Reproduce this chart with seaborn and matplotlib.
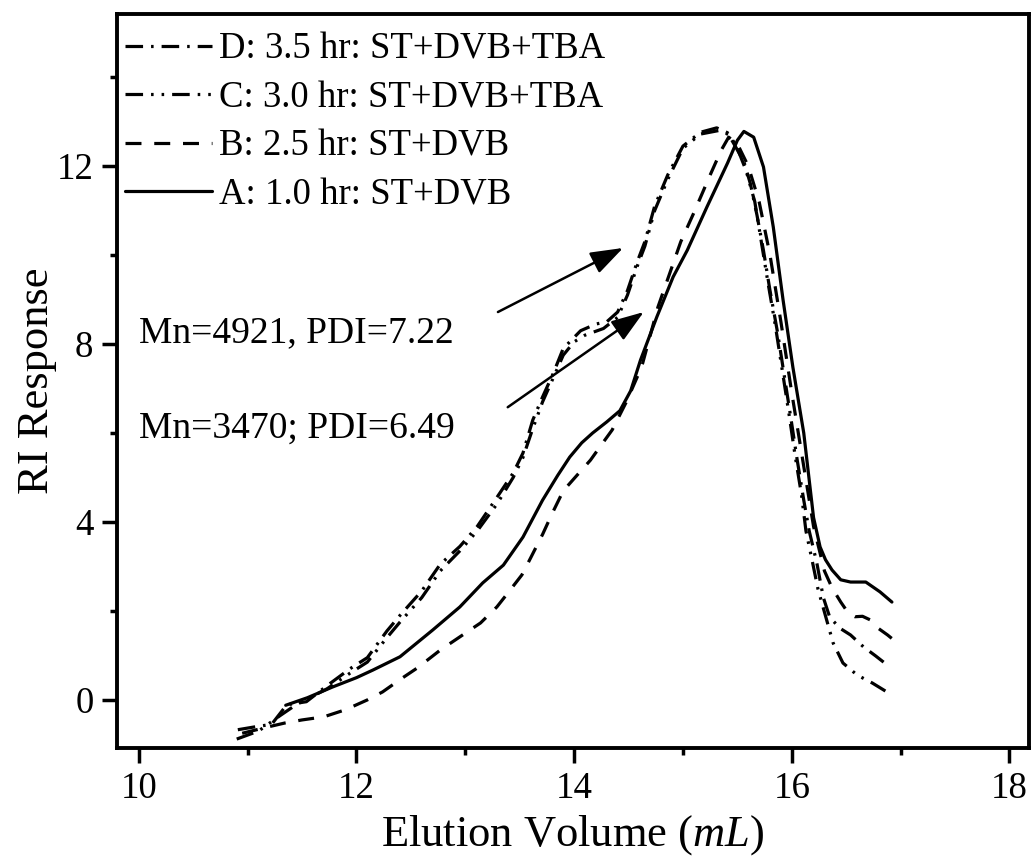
import numpy as np
import pandas as pd
import matplotlib
matplotlib.use("Agg")
import matplotlib.pyplot as plt
from matplotlib.ticker import MultipleLocator
import seaborn as sns

# GPC traces (elution volume in mL, RI response)
xA = [11.35, 11.55, 11.78, 12.0, 12.15, 12.4, 12.7, 12.95, 13.16, 13.35, 13.53, 13.71, 13.85, 13.96,
      14.07, 14.17, 14.3, 14.42, 14.52, 14.61, 14.76, 14.91, 15.04, 15.22, 15.41, 15.5, 15.56, 15.65,
      15.74, 15.83, 15.92, 16.01, 16.11, 16.2, 16.26, 16.31, 16.37, 16.45, 16.54, 16.68, 16.81, 16.92]
yA = [-0.12, 0.05, 0.29, 0.5, 0.67, 0.97, 1.57, 2.09, 2.63, 3.03, 3.66, 4.49, 5.05, 5.46,
      5.78, 6.0, 6.25, 6.5, 6.95, 7.64, 8.61, 9.51, 10.11, 11.08, 12.07, 12.58, 12.78, 12.65,
      11.98, 10.63, 8.99, 7.48, 6.0, 4.1, 3.44, 3.15, 2.92, 2.70, 2.65, 2.65, 2.43, 2.2]

xB = [10.95, 11.2, 11.34, 11.5, 11.7, 11.9, 12.1, 12.24, 12.42, 12.56, 12.77, 13.0, 13.14, 13.29,
      13.39, 13.52, 13.6, 13.71, 13.8, 13.9, 14.03, 14.15, 14.27, 14.35, 14.48, 14.58, 14.63, 14.77,
      14.88, 14.98, 15.1, 15.25, 15.35, 15.42, 15.5, 15.6, 15.7, 15.8, 15.9, 16.0, 16.1, 16.2, 16.3,
      16.37, 16.45, 16.52, 16.58, 16.65, 16.72, 16.8, 16.88, 16.95, 17.0]
yB = [-0.75, -0.6, -0.52, -0.45, -0.38, -0.22, 0.0, 0.18, 0.49, 0.72, 1.12, 1.5, 1.73, 2.09,
      2.4, 2.81, 3.19, 3.72, 4.2, 4.7, 5.06, 5.39, 5.8, 6.07, 6.7, 7.26, 7.57, 8.83,
      9.6, 10.3, 10.95, 11.8, 12.35, 12.65, 12.5, 12.0, 11.2, 10.0, 8.5, 6.9, 5.4, 3.9, 2.9,
      2.52, 2.2, 1.95, 1.87, 1.88, 1.8, 1.6, 1.46, 1.32, 1.3]

xC = [10.9, 11.1, 11.3, 11.45, 11.73, 11.94, 12.1, 12.28, 12.4, 12.6, 12.77, 12.95, 13.11, 13.29,
      13.44, 13.53, 13.62, 13.71, 13.81, 13.9, 14.0, 14.1, 14.27, 14.4, 14.49, 14.58, 14.65, 14.74,
      14.86, 15.0, 15.16, 15.33, 15.43, 15.5, 15.58, 15.66, 15.72, 15.78, 15.85, 15.97, 16.03, 16.09,
      16.13, 16.19, 16.24, 16.32, 16.38, 16.47, 16.6, 16.74, 16.86]
yC = [-0.88, -0.7, -0.35, -0.1, 0.25, 0.6, 0.85, 1.4, 1.75, 2.3, 2.9, 3.35, 3.8, 4.4,
      5.0, 5.45, 6.1, 6.7, 7.25, 7.75, 8.05, 8.2, 8.35, 8.6, 9.1, 9.75, 10.2, 11.0,
      11.7, 12.4, 12.72, 12.8, 12.7, 12.4, 11.9, 11.2, 10.3, 9.4, 8.4, 6.5, 5.5, 4.6,
      3.8, 3.1, 2.5, 1.8, 1.28, 0.83, 0.56, 0.38, 0.2]

xD = [10.91, 11.08, 11.22, 11.36, 11.54, 11.73, 11.94, 12.1, 12.28, 12.4, 12.6, 12.77, 12.95, 13.11,
      13.29, 13.44, 13.53, 13.62, 13.71, 13.81, 13.9, 14.06, 14.2, 14.3, 14.4, 14.49, 14.58, 14.65,
      14.74, 14.86, 15.0, 15.16, 15.31, 15.41, 15.48, 15.56, 15.62, 15.68, 15.74, 15.8, 15.87, 15.99,
      16.05, 16.11, 16.16, 16.23, 16.29, 16.35, 16.45, 16.54, 16.66, 16.77, 16.89]
yD = [-0.67, -0.6, -0.55, -0.11, -0.04, 0.32, 0.7, 0.95, 1.55, 1.9, 2.45, 3.05, 3.45, 3.9,
      4.55, 5.1, 5.55, 6.29, 6.81, 7.35, 7.9, 8.3, 8.45, 8.5, 8.72, 9.2, 9.85, 10.3,
      11.1, 11.8, 12.45, 12.76, 12.86, 12.75, 12.45, 12.1, 11.6, 10.9, 10.1, 9.2, 8.25, 6.36,
      5.39, 4.49, 3.8, 3.08, 2.3, 1.85, 1.6, 1.46, 1.19, 0.99, 0.76]

labels = ["A: 1.0 hr: ST+DVB", "B: 2.5 hr: ST+DVB", "C: 3.0 hr: ST+DVB+TBA", "D: 3.5 hr: ST+DVB+TBA"]
notes = ["Mn=4921, PDI=7.22", "Mn=3470; PDI=6.49"]

sns.set_style("ticks")
plt.rcParams["font.family"] = ["Liberation Serif", "DejaVu Serif"]
plt.rcParams["mathtext.fontset"] = "custom"
plt.rcParams["mathtext.rm"] = "Liberation Serif"
plt.rcParams["mathtext.it"] = "Liberation Serif:italic"
for k in ["text.color", "axes.labelcolor", "xtick.color", "ytick.color", "axes.edgecolor"]:
    plt.rcParams[k] = "black"

fig = plt.figure(figsize=(10.31, 8.63), dpi=100)
ax = fig.add_axes([0.1135, 0.1333, 0.8846, 0.8505])

lw = 2.3
styles = ["-", (0, (5, 4)), (0, (5.5, 2.5, 0.8, 2.5, 0.8, 2.5)), (0, (5.5, 2.5, 0.8, 2.5))]
series = [(xA, yA), (xB, yB), (xC, yC), (xD, yD)]
for (xs, ys), lab, ls in zip(series, labels, styles):
    df = pd.DataFrame({"vol": xs, "ri": ys})
    sns.lineplot(data=df, x="vol", y="ri", ax=ax, color="k", lw=lw, linestyle=ls,
                 sort=False, estimator=None, label=lab)

# arrows pointing to the shoulders
ax.annotate("", xy=(14.45, 10.16), xytext=(13.30, 8.72),
            arrowprops=dict(arrowstyle="-|>,head_length=0.8,head_width=0.28", color="k", lw=1.8,
                            mutation_scale=25, shrinkA=0, shrinkB=0))
ax.annotate("", xy=(14.64, 8.72), xytext=(13.39, 6.58),
            arrowprops=dict(arrowstyle="-|>,head_length=0.8,head_width=0.28", color="k", lw=1.8,
                            mutation_scale=25, shrinkA=0, shrinkB=0))
ax.text(10.0, 8.04, notes[0], fontsize=27, va="baseline", ha="left")
ax.text(10.0, 5.89, notes[1], fontsize=27, va="baseline", ha="left")

ax.set_xlim(9.80, 18.18)
ax.set_ylim(-1.08, 15.42)
ax.xaxis.set_major_locator(MultipleLocator(2))
ax.xaxis.set_minor_locator(MultipleLocator(1))
ax.yaxis.set_major_locator(MultipleLocator(4))
ax.yaxis.set_minor_locator(MultipleLocator(2))
ax.tick_params(which="major", direction="out", length=11, width=2.5, labelsize=26.5, pad=6)
ax.tick_params(which="minor", direction="out", length=5, width=2.5)
for s in ax.spines.values():
    s.set_linewidth(2.8)
    s.set_visible(True)

ax.set_xlabel("Elution Volume ($mL$)", fontsize=32, labelpad=5)
ax.set_ylabel("RI Response", fontsize=32, labelpad=0)

h, l = ax.get_legend_handles_labels()
ax.legend(h[::-1], l[::-1], loc="upper left", bbox_to_anchor=(0.0088, 0.975), frameon=False,
          fontsize=26.5, handlelength=2.35, handletextpad=0.2, labelspacing=0.38,
          borderpad=0, borderaxespad=0)

fig.savefig("out.png", dpi=100)
